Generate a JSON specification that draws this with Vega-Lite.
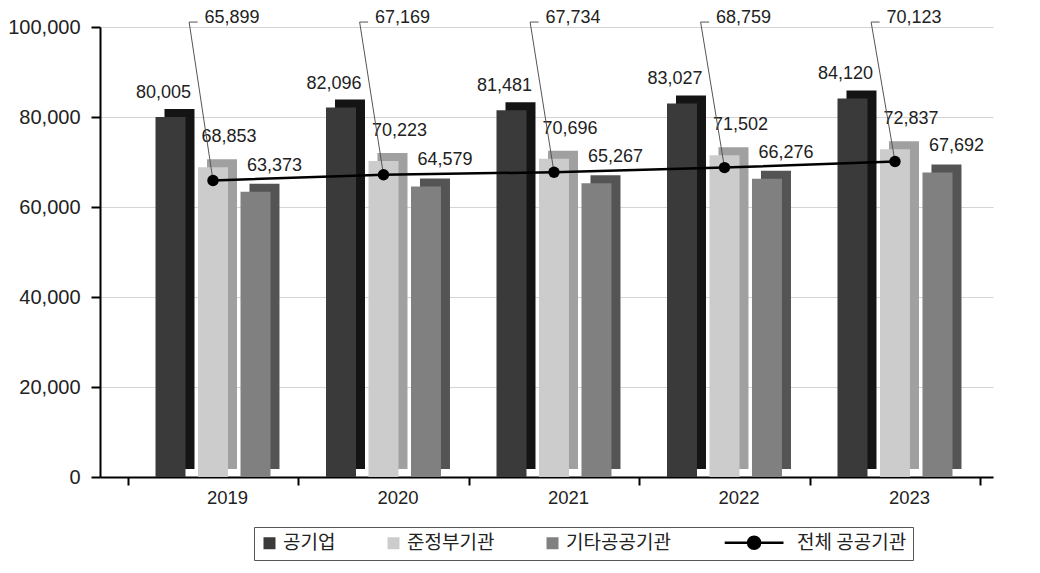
{
  "$schema": "https://vega.github.io/schema/vega-lite/v6.json",
  "width": 935,
  "height": 450,
  "autosize": {"type": "none"},
  "padding": {"left": 100, "top": 27, "right": 5, "bottom": 96},
  "background": "#ffffff",
  "config": {
    "view": {"stroke": null},
    "font": "Liberation Sans",
    "text": {"font": "Liberation Sans", "fontSize": 18, "fill": "#222222"},
    "axisX": {
      "labelAngle": 0, "labelFontSize": 18.5, "labelColor": "#222222", "labelFont": "Liberation Sans",
      "labelOffset": 14, "tickOffset": 13, "domainColor": "#000000", "domainWidth": 2,
      "tickColor": "#000000", "tickWidth": 2, "tickSize": 8, "tickBand": "extent",
      "labelPadding": 3, "grid": false, "title": null
    },
    "axisY": {
      "labelFontSize": 20, "labelColor": "#222222", "labelFont": "Liberation Sans",
      "labelPadding": 11, "domainColor": "#000000", "domainWidth": 2,
      "tickColor": "#000000", "tickWidth": 2, "tickSize": 9,
      "grid": true, "gridColor": "#d4d4d4", "gridWidth": 1, "title": null
    }
  },
  "resolve": {"scale": {"xOffset": "independent"}},
  "data": {
    "values": [
      {"year": "2019", "series": "공기업", "value": 80005},
      {"year": "2019", "series": "준정부기관", "value": 68853},
      {"year": "2019", "series": "기타공공기관", "value": 63373},
      {"year": "2019", "series": "전체 공공기관", "value": 65899},
      {"year": "2020", "series": "공기업", "value": 82096},
      {"year": "2020", "series": "준정부기관", "value": 70223},
      {"year": "2020", "series": "기타공공기관", "value": 64579},
      {"year": "2020", "series": "전체 공공기관", "value": 67169},
      {"year": "2021", "series": "공기업", "value": 81481},
      {"year": "2021", "series": "준정부기관", "value": 70696},
      {"year": "2021", "series": "기타공공기관", "value": 65267},
      {"year": "2021", "series": "전체 공공기관", "value": 67734},
      {"year": "2022", "series": "공기업", "value": 83027},
      {"year": "2022", "series": "준정부기관", "value": 71502},
      {"year": "2022", "series": "기타공공기관", "value": 66276},
      {"year": "2022", "series": "전체 공공기관", "value": 68759},
      {"year": "2023", "series": "공기업", "value": 84120},
      {"year": "2023", "series": "준정부기관", "value": 72837},
      {"year": "2023", "series": "기타공공기관", "value": 67692},
      {"year": "2023", "series": "전체 공공기관", "value": 70123}
    ]
  },
  "layer": [
    {
      "transform": [{"filter": "datum.series !== '전체 공공기관'"}],
      "mark": {"type": "bar", "yOffset": -8, "y2Offset": -20},
      "encoding": {
        "x": {
          "field": "year", "type": "nominal", "sort": null,
          "scale": {"type": "band", "range": [0, 893], "paddingInner": 0, "paddingOuter": 0.1188, "align": 0.685},
          "axis": {"title": null}
        },
        "xOffset": {
          "field": "series", "type": "nominal",
          "scale": {"domain": ["공기업", "준정부기관", "기타공공기관"], "paddingInner": 0.294, "paddingOuter": 0.653, "align": 0.662}
        },
        "y": {
          "field": "value", "type": "quantitative",
          "scale": {"domain": [0, 100000], "nice": false},
          "axis": {
            "title": null, "values": [0, 20000, 40000, 60000, 80000, 100000],
            "labelExpr": "format(datum.value, ',')"
          }
        },
        "fill": {
          "field": "series", "type": "nominal", "legend": null,
          "scale": {"domain": ["공기업", "준정부기관", "기타공공기관"], "range": ["#141414", "#a0a0a0", "#545454"]}
        }
      }
    },
    {
      "layer": [
        {
          "transform": [{"filter": "datum.series !== '전체 공공기관'"}],
          "mark": {"type": "bar", "y2Offset": -12},
          "encoding": {
            "x": {"field": "year", "type": "nominal", "sort": null},
            "xOffset": {
              "field": "series", "type": "nominal",
              "scale": {"domain": ["공기업", "준정부기관", "기타공공기관"], "paddingInner": 0.294, "paddingOuter": 0.653}
            },
            "y": {"field": "value", "type": "quantitative"},
            "color": {
              "field": "series", "type": "nominal",
              "scale": {
                "domain": ["공기업", "준정부기관", "기타공공기관", "전체 공공기관"],
                "range": ["#3a3a3a", "#cccccc", "#808080", "#000000"]
              },
              "legend": {
                "title": null, "orient": "none", "legendX": 154, "legendY": 500,
                "direction": "horizontal", "columns": 4,
                "labelFont": "Noto Sans CJK KR", "labelFontSize": 19, "labelColor": "#222222",
                "labelOffset": 4, "symbolSize": 144, "columnPadding": 48,
                "padding": 6, "strokeColor": "#555555", "fillColor": "#ffffff",
                "symbolOpacity": 1,
                "encode": {
                  "symbols": {
                    "update": {
                      "shape": {"signal": "datum.value === '전체 공공기관' ? 'M-9.8,0H0M-3.9,0A1,1 0 1,0 -5.9,0A1,1 0 1,0 -3.9,0' : 'square'"},
                      "fill": {"signal": "scale('color', datum.value)"},
                      "stroke": {"value": "#000000"},
                      "strokeWidth": {"signal": "datum.value === '전체 공공기관' ? 2.5 : 0"},
                      "opacity": {"value": 1}
                    }
                  }
                }
              }
            }
          }
        },
        {
          "transform": [{"filter": "datum.series === '공기업'"}],
          "mark": {"type": "text", "dx": -7, "dy": -24, "baseline": "middle", "align": "center"},
          "encoding": {
            "x": {"field": "year", "type": "nominal", "sort": null},
            "xOffset": {"field": "series", "type": "nominal"},
            "y": {"field": "value", "type": "quantitative"},
            "text": {"field": "value", "type": "quantitative", "format": ","}
          }
        },
        {
          "transform": [{"filter": "datum.series === '준정부기관'"}],
          "mark": {"type": "text", "dx": 16, "dy": -30, "baseline": "middle", "align": "center"},
          "encoding": {
            "x": {"field": "year", "type": "nominal", "sort": null},
            "xOffset": {"field": "series", "type": "nominal"},
            "y": {"field": "value", "type": "quantitative"},
            "text": {"field": "value", "type": "quantitative", "format": ","}
          }
        },
        {
          "transform": [{"filter": "datum.series === '기타공공기관'"}],
          "mark": {"type": "text", "dx": 19, "dy": -26, "baseline": "middle", "align": "center"},
          "encoding": {
            "x": {"field": "year", "type": "nominal", "sort": null},
            "xOffset": {"field": "series", "type": "nominal"},
            "y": {"field": "value", "type": "quantitative"},
            "text": {"field": "value", "type": "quantitative", "format": ","}
          }
        }
      ]
    },
    {
      "transform": [{"filter": "datum.series === '전체 공공기관'"}],
      "mark": {"type": "rule", "color": "#555555", "strokeWidth": 1},
      "encoding": {
        "x": {"field": "year", "type": "nominal", "sort": null, "bandPosition": 0.5},
        "x2": {"field": "year", "bandPosition": 0.36},
        "y": {"field": "value", "type": "quantitative"},
        "y2": {"datum": 101100}
      }
    },
    {
      "transform": [{"filter": "datum.series === '전체 공공기관'"}],
      "mark": {"type": "rule", "color": "#555555", "strokeWidth": 1},
      "encoding": {
        "x": {"field": "year", "type": "nominal", "sort": null, "bandPosition": 0.36},
        "x2": {"field": "year", "bandPosition": 0.41},
        "y": {"datum": 101100}
      }
    },
    {
      "transform": [{"filter": "datum.series === '전체 공공기관'"}],
      "mark": {"type": "line", "color": "#000000", "strokeWidth": 2.5},
      "encoding": {
        "x": {"field": "year", "type": "nominal", "sort": null, "bandPosition": 0.5},
        "y": {"field": "value", "type": "quantitative"},
        "color": {"datum": "전체 공공기관"}
      }
    },
    {
      "transform": [{"filter": "datum.series === '전체 공공기관'"}],
      "mark": {"type": "point", "filled": true, "size": 130, "opacity": 1, "color": "#000000"},
      "encoding": {
        "x": {"field": "year", "type": "nominal", "sort": null, "bandPosition": 0.5},
        "y": {"field": "value", "type": "quantitative"}
      }
    },
    {
      "transform": [{"filter": "datum.series === '전체 공공기관'"}],
      "mark": {"type": "text", "align": "left", "baseline": "middle"},
      "encoding": {
        "x": {"field": "year", "type": "nominal", "sort": null, "bandPosition": 0.45},
        "y": {"datum": 102000},
        "text": {"field": "value", "type": "quantitative", "format": ","}
      }
    }
  ]
}
